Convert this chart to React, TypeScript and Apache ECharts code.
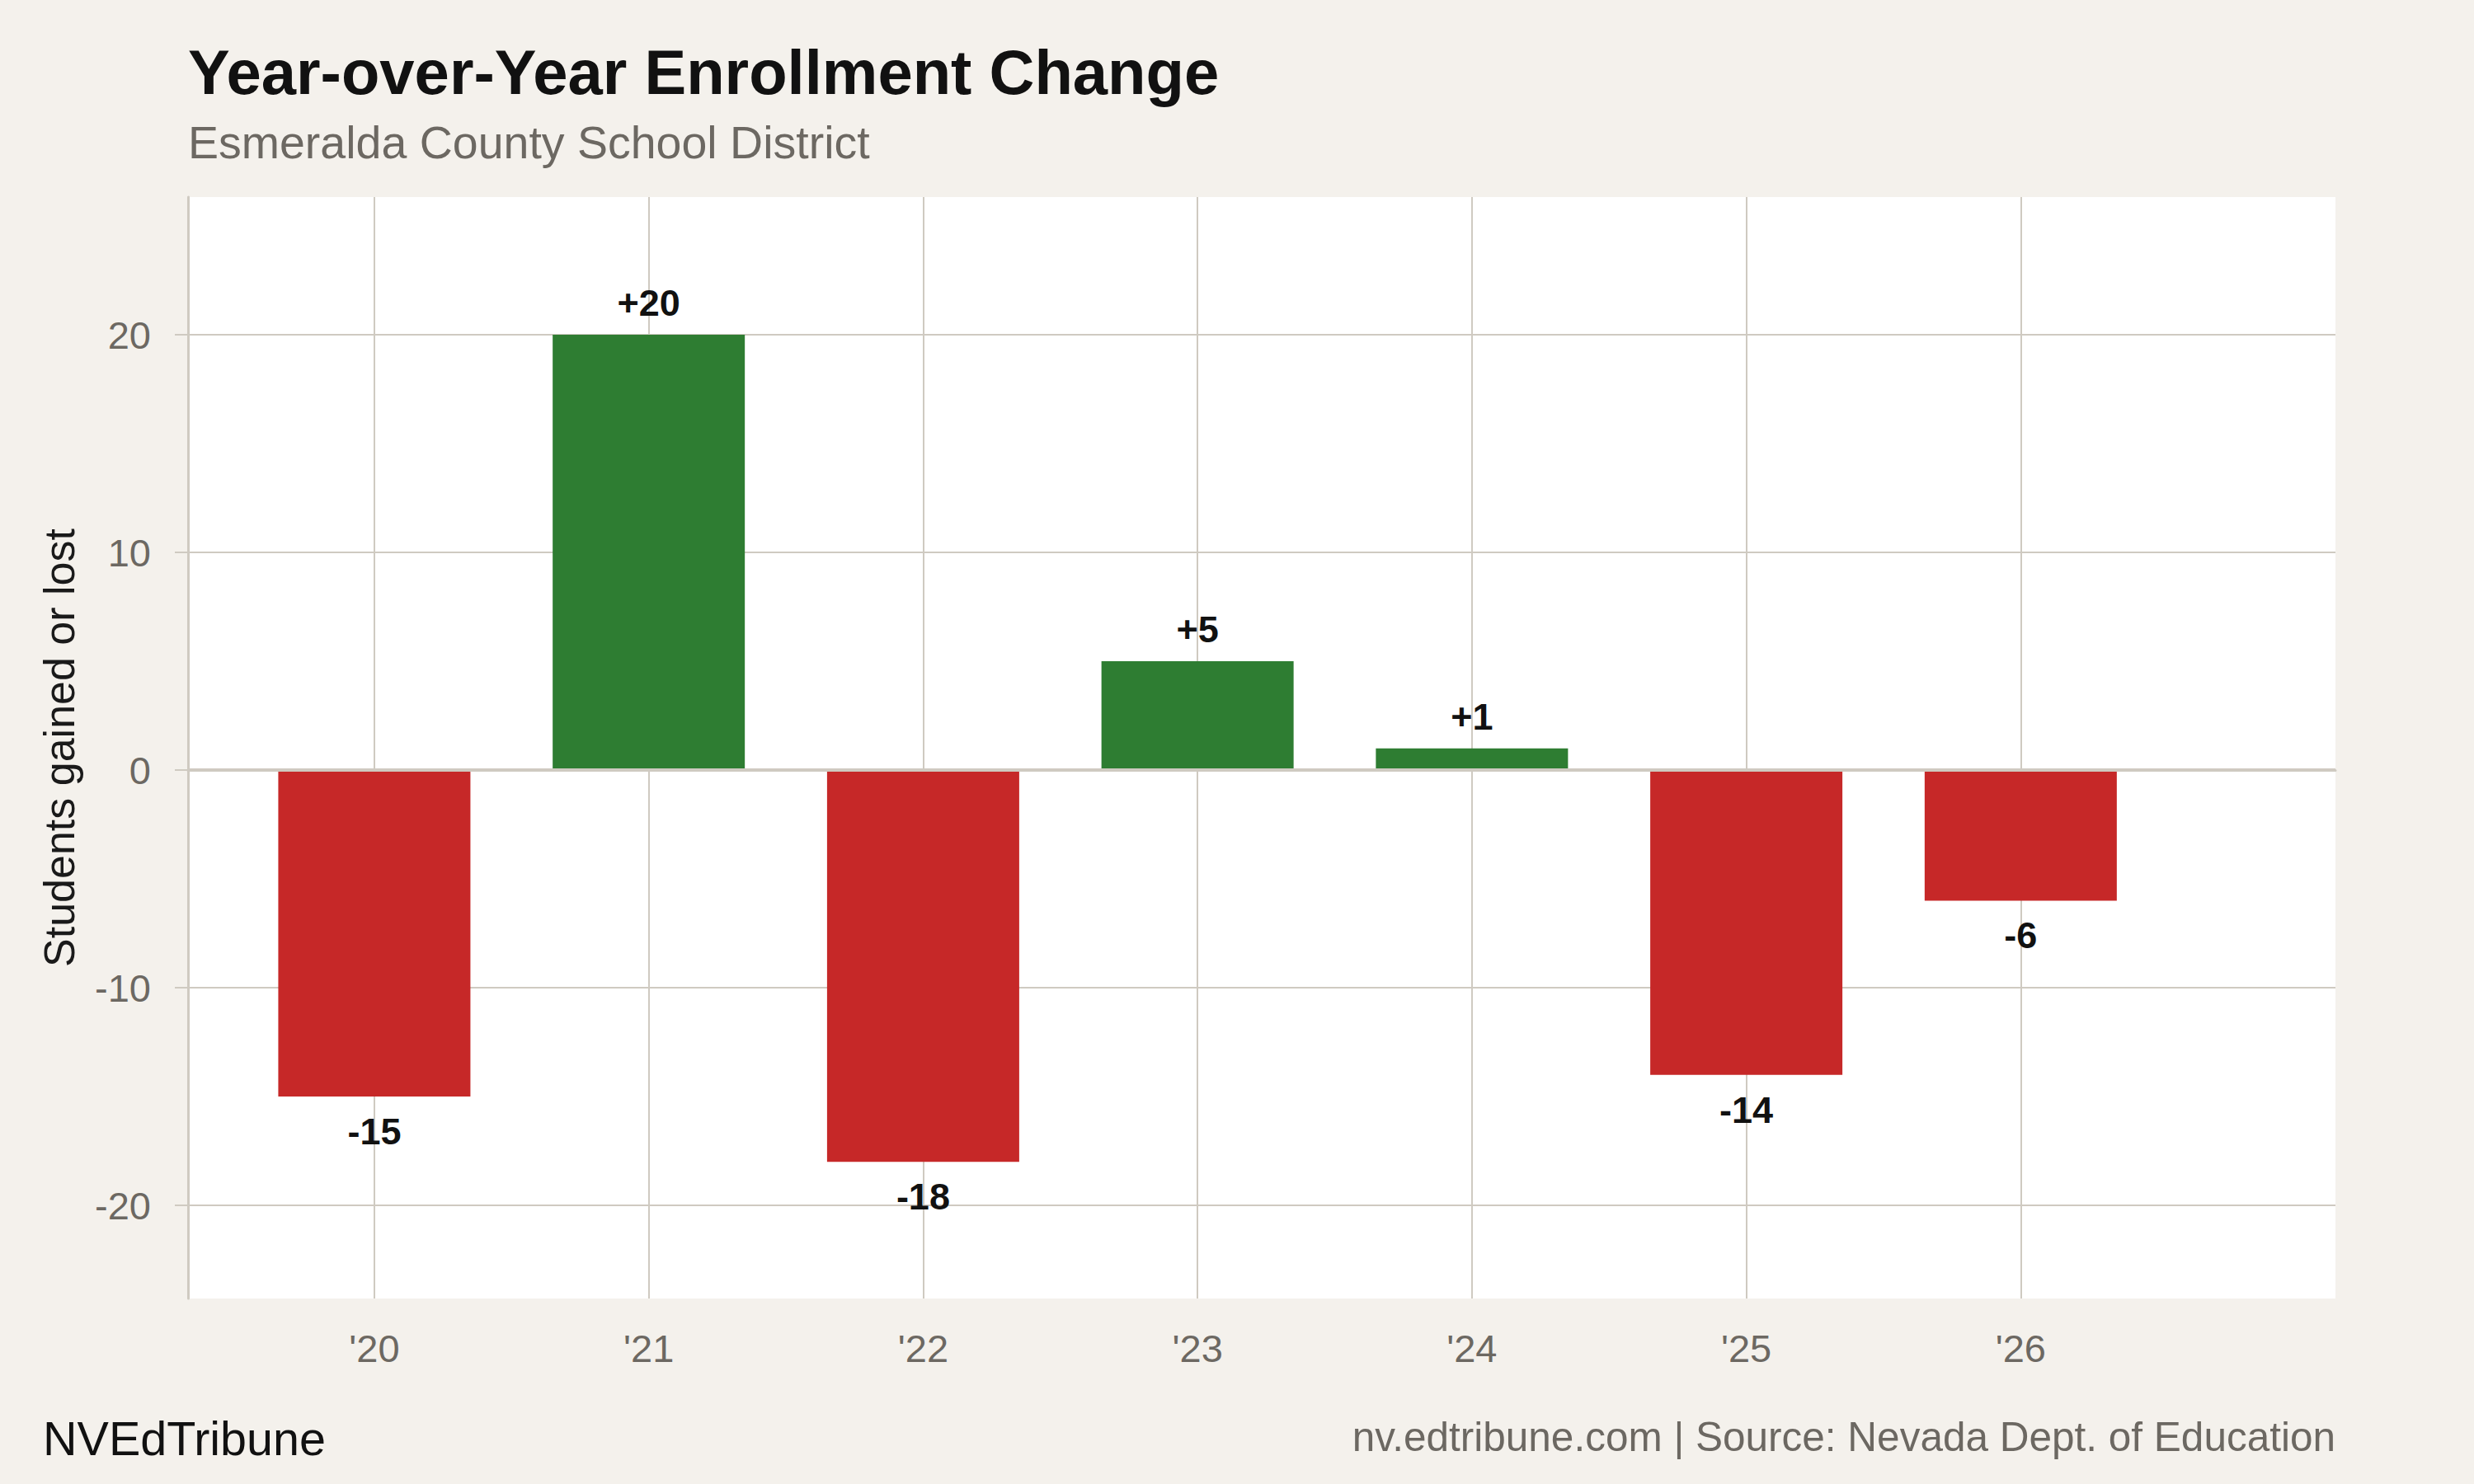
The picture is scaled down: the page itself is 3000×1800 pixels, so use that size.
import { useEffect, useRef } from 'react';
import * as echarts from 'echarts';

// school years, shown as '20 ... '26
const years = [20, 21, 22, 23, 24, 25, 26];
// students gained or lost vs previous year
const changes = [-15, 20, -18, 5, 1, -14, -6];
const yTicks = [-20, -10, 0, 10, 20];

const FONT = '"Liberation Sans", Arial, Helvetica, sans-serif';
const GRID_COLOR = '#cfcac1';
const MUTED = '#6c6862';
const GAIN = '#2e7d32';
const LOSS = '#c62828';

const App = () => {
    const chartRef = useRef(null);

    useEffect(() => {
        const myChart = echarts.init(chartRef.current, null, { renderer: 'svg' });

        myChart.setOption({
            animation: false,
            backgroundColor: '#f4f1ec',
            textStyle: { fontFamily: FONT },
            grid: {
                left: 228,
                top: 239,
                width: 2604,
                height: 1336,
                show: true,
                backgroundColor: '#ffffff',
                borderWidth: 0,
            },
            graphic: [
                {
                    type: 'text',
                    left: 228,
                    top: 49,
                    style: {
                        text: 'Year-over-Year Enrollment Change',
                        font: `bold 76px ${FONT}`,
                        fill: '#111111',
                    },
                },
                {
                    type: 'text',
                    left: 228,
                    top: 145,
                    style: {
                        text: 'Esmeralda County School District',
                        font: `55.5px ${FONT}`,
                        fill: MUTED,
                    },
                },
                {
                    type: 'text',
                    left: 52,
                    top: 1716,
                    style: {
                        text: 'NVEdTribune',
                        font: `57.5px ${FONT}`,
                        fill: '#111111',
                    },
                },
                {
                    type: 'text',
                    right: 168,
                    top: 1717,
                    style: {
                        text: 'nv.edtribune.com | Source: Nevada Dept. of Education',
                        font: `49.5px ${FONT}`,
                        fill: MUTED,
                    },
                },
            ],
            xAxis: {
                type: 'value',
                min: 19.321,
                max: 27.147,
                axisLine: { show: true, lineStyle: { color: GRID_COLOR, width: 3 } },
                axisTick: {
                    show: true,
                    length: 14,
                    customValues: years,
                    lineStyle: { color: GRID_COLOR, width: 2 },
                },
                axisLabel: {
                    customValues: years,
                    margin: 37,
                    fontSize: 47,
                    color: MUTED,
                    fontFamily: FONT,
                    formatter: (v: number) => `'${v}`,
                },
                splitLine: { show: true, lineStyle: { color: GRID_COLOR, width: 2 } },
            },
            yAxis: {
                type: 'value',
                min: -24.28,
                max: 26.33,
                name: 'Students gained or lost',
                nameLocation: 'middle',
                nameRotate: 90,
                nameGap: 130,
                nameTextStyle: { fontSize: 52, color: '#1a1a1a', fontFamily: FONT },
                axisLine: { show: true, lineStyle: { color: GRID_COLOR, width: 3 } },
                axisTick: {
                    show: true,
                    length: 16,
                    customValues: yTicks,
                    lineStyle: { color: GRID_COLOR, width: 2 },
                },
                axisLabel: {
                    customValues: yTicks,
                    margin: 45,
                    fontSize: 47,
                    color: MUTED,
                    fontFamily: FONT,
                },
                splitLine: { show: true, lineStyle: { color: GRID_COLOR, width: 2 } },
            },
            series: [
                {
                    type: 'bar',
                    barWidth: 233,
                    data: years.map((y, i) => ({
                        value: [y, changes[i]],
                        label: { distance: changes[i] >= 0 ? 16 : 20 },
                    })),
                    itemStyle: {
                        color: (p: any) => (p.value[1] >= 0 ? GAIN : LOSS),
                    },
                    label: {
                        show: true,
                        position: 'outside',
                        distance: 16,
                        fontSize: 45,
                        fontWeight: 'bold',
                        color: '#111111',
                        fontFamily: FONT,
                        formatter: (p: any) => {
                            const v = p.value[1];
                            return v > 0 ? `+${v}` : `${v}`;
                        },
                    },
                    markLine: {
                        silent: true,
                        symbol: 'none',
                        label: { show: false },
                        lineStyle: { color: GRID_COLOR, width: 4, type: 'solid' },
                        data: [{ yAxis: 0 }],
                    },
                },
            ],
        });

        return () => {
            myChart.dispose();
        };
    }, []);

    return (
        <div
            ref={chartRef}
            style={{ position: 'fixed', left: 0, top: 0, width: '3000px', height: '1800px' }}
        />
    );
};

export default App;
